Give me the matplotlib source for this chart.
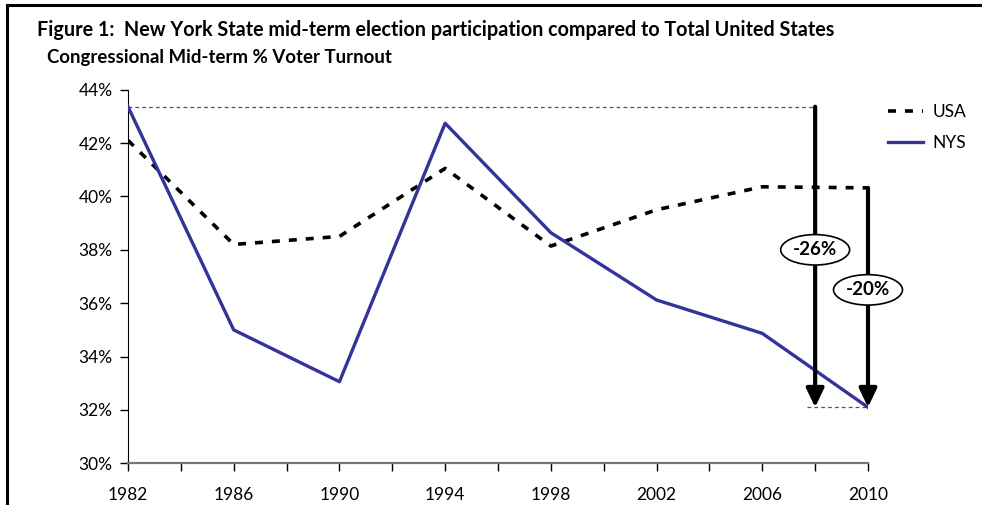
import matplotlib
matplotlib.use("Agg")
import matplotlib.pyplot as plt
from matplotlib.lines import Line2D

years = [1982, 1986, 1990, 1994, 1998, 2002, 2006, 2010]
usa = [42.1, 38.2, 38.5, 41.05, 38.14, 39.5, 40.36, 40.32]
nys = [43.36, 35.0, 33.06, 42.74, 38.64, 36.12, 34.87, 32.1]
tick_years = list(range(1982, 2011, 2))
label_years = [1982, 1986, 1990, 1994, 1998, 2002, 2006, 2010]
yticks = [30, 32, 34, 36, 38, 40, 42, 44]
title = "Figure 1:  New York State mid-term election participation compared to Total United States"
subtitle = "Congressional Mid-term % Voter Turnout"
arrow1_year = 2008
arrow1_label = "-26%"
arrow2_label = "-20%"

FONT = ['Lato', 'DejaVu Sans']
plt.rcParams['font.family'] = FONT

W, H = 982, 505
fig = plt.figure(figsize=(W / 100, H / 100), dpi=100)
ax = fig.add_axes([128 / W, 1 - 463.4 / H, (868 - 128) / W, (463.4 - 89.6) / H])

nys_color = '#33339a'
ax.plot(years, usa, color='black', lw=2.6, ls=(0, (2.2, 2.5)), zorder=3)
ax.plot(years, nys, color=nys_color, lw=2.4, zorder=4)

# reference dotted lines
ax.plot([years[0], arrow1_year], [nys[0], nys[0]], color='#555555', lw=0.9, ls=(0, (3, 2.5)), zorder=2)
ax.plot([arrow1_year - 0.3, years[-1]], [nys[-1], nys[-1]], color='#555555', lw=0.9, ls=(0, (3, 2.5)), zorder=2)

# arrows
ap = dict(arrowstyle='-|>,head_length=0.8,head_width=0.38', lw=3, color='black',
          shrinkA=0, shrinkB=0, mutation_scale=14)
ax.annotate('', xy=(arrow1_year, nys[-1]), xytext=(arrow1_year, nys[0]), arrowprops=ap, zorder=5)
ax.annotate('', xy=(years[-1], nys[-1]), xytext=(years[-1], usa[-1]), arrowprops=ap, zorder=5)

bb = dict(boxstyle='ellipse,pad=0.12', fc='white', ec='black', lw=1.2)
ax.text(arrow1_year, 38.0, arrow1_label, ha='center', va='center', fontsize=13.5, fontweight='bold',
        bbox=bb, zorder=6)
ax.text(years[-1], 36.5, arrow2_label, ha='center', va='center', fontsize=13.5, fontweight='bold',
        bbox=bb, zorder=6)

ax.set_xlim(1982, 2010)
ax.set_ylim(30, 44)
for s in ['top', 'right']:
    ax.spines[s].set_visible(False)
ax.spines['left'].set_color('black')
ax.spines['bottom'].set_color('#777777')
ax.spines['bottom'].set_linewidth(1.6)
ax.set_xticks(tick_years)
ax.set_xticklabels([str(y) if y in label_years else '' for y in tick_years])
ax.set_yticks(yticks)
ax.set_yticklabels([f"{v}%" for v in yticks])
ax.tick_params(axis='x', direction='out', length=6, width=1, color='black', pad=11, labelsize=12.5)
ax.tick_params(axis='y', direction='out', length=6, width=1, color='black', pad=5, labelsize=12.5)

# legend
handles = [Line2D([], [], color='black', lw=2.6, ls=(0, (2.2, 2.5))),
           Line2D([], [], color=nys_color, lw=2.4)]
fig.legend(handles, ['USA', 'NYS'], loc='upper left', bbox_to_anchor=(888 / W, 1 - 104 / H),
           frameon=False, fontsize=12.5, handlelength=2.0, handletextpad=0.55, labelspacing=0.85,
           borderpad=0, borderaxespad=0)

fig.text(37 / W, 1 - 30 / H, title, ha='left', va='center', fontsize=14.2, fontweight='bold')
fig.text(47 / W, 1 - 57 / H, subtitle, ha='left', va='center', fontsize=13.4, fontweight='bold')

# border lines (top and left)
fig.add_artist(Line2D([7 / W, 1], [1 - 5 / H, 1 - 5 / H], transform=fig.transFigure, color='black', lw=2.2))
fig.add_artist(Line2D([7 / W, 7 / W], [0, 1 - 5 / H], transform=fig.transFigure, color='black', lw=2.2))

fig.savefig('out.png', dpi=100)
